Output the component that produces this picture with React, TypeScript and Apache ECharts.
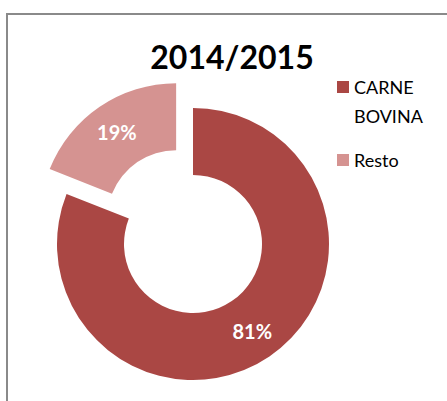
import React, { useEffect, useRef } from "react";
import * as echarts from "echarts";

const title = "2014/2015";
const categories = ["CARNE BOVINA", "Resto"];
const values = [81, 19];
const colors = ["#AA4744", "#D59391"];

export default function App() {
  const ref = useRef<HTMLDivElement>(null);
  useEffect(() => {
    if (!ref.current) return;
    const chart = echarts.init(ref.current, undefined, { renderer: "svg" });
    const L = 29;
    chart.setOption({
      animation: false,
      backgroundColor: "#ffffff",
      title: {
        text: title,
        left: 227,
        top: 35,
        textAlign: "center",
        textStyle: { fontFamily: "Lato", fontWeight: "bold", fontSize: 32, color: "#000" },
      },
      graphic: [
        {
          type: "rect",
          shape: { x: 7, y: 14, width: 600, height: 600 },
          style: { fill: "none", stroke: "#8a8a8a", lineWidth: 2 },
          silent: true,
          z: -1,
        },
      ],
      legend: {
        orient: "vertical",
        left: 337,
        top: 87 - 1.5 * L,
        padding: 0,
        itemWidth: 12,
        itemHeight: 12,
        itemGap: 15,
        icon: "rect",
        selectedMode: false,
        formatter: (n: string) => (n.indexOf(" ") >= 0 ? "\n" + n.replace(" ", "\n") : n),
        textStyle: { fontFamily: "Lato", fontSize: 18, color: "#000", lineHeight: L },
        data: categories,
      },
      series: [
        {
          type: "pie",
          center: [193, 244],
          radius: [69, 136],
          startAngle: 90,
          clockwise: true,
          selectedMode: "multiple",
          selectedOffset: 30,
          label: {
            show: true,
            position: "inside",
            formatter: "{c}%",
            color: "#fff",
            fontFamily: "Lato",
            fontWeight: "bold",
            fontSize: 20,
          },
          labelLine: { show: false },
          emphasis: { disabled: true },
          data: categories.map((name, i) => ({
            name,
            value: values[i],
            selected: i === 1,
            itemStyle: { color: colors[i] },
          })),
        },
      ],
    });
    return () => chart.dispose();
  }, []);
  return (
    <div
      ref={ref}
      style={{ position: "absolute", left: 0, top: 0, width: 447, height: 401 }}
    />
  );
}
